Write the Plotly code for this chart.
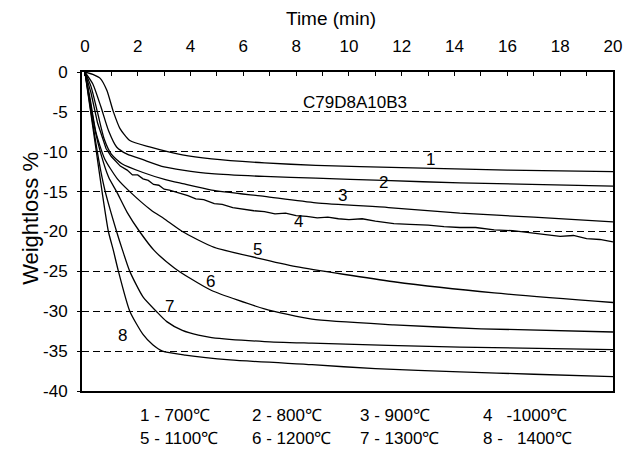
import plotly.graph_objects as go

# ---- data ----
t1 = [0, 0.3, 0.58, 0.83, 1.08, 1.33, 1.7, 2.45, 3.69, 4.8, 6.8, 8.75, 12.0, 16.0, 20.0]
w1 = [0, -0.3, -0.8, -2.3, -5.0, -7.1, -8.6, -9.4, -10.4, -10.9, -11.4, -11.7, -12.0, -12.3, -12.5]

t2 = [0, 0.3, 0.6, 0.9, 1.2, 1.6, 2.2, 3.0, 3.7, 4.8, 6.8, 8.75, 11.3, 14.2, 20.0]
w2 = [0, -1.5, -4.3, -7.4, -9.4, -10.3, -11.0, -11.9, -12.3, -12.75, -13.1, -13.3, -13.6, -13.9, -14.3]

t3 = [0, 0.23, 0.48, 0.73, 1.0, 1.4, 2.2, 3.05, 3.7, 4.8, 6.8, 8.75, 11.5, 14.2, 17.0, 20.0]
w3 = [0, -1.8, -5.1, -8.4, -10.3, -11.5, -12.6, -13.5, -14.0, -14.8, -15.6, -16.4, -17.0, -17.7, -18.2, -18.8]

t4 = [0, 0.23, 0.48, 0.8, 1.0, 1.34, 1.6, 1.8, 2.0, 2.2, 2.4, 2.6, 2.8, 3.0, 3.2, 3.4, 3.65, 3.9,
      4.2, 4.5, 4.9, 5.2, 5.6, 6.0, 6.4, 6.8, 7.2, 7.6, 8.0, 8.4, 8.8, 9.2, 9.6, 10.0, 10.5, 11.0,
      11.7, 12.3, 13.0, 13.6, 14.2, 14.8, 15.5, 16.2, 17.0, 17.6, 18.0, 18.5, 19.0, 19.5, 20.0]
w4 = [0, -2.6, -6.4, -9.6, -10.6, -11.8, -12.3, -12.9, -12.9, -13.4, -13.6, -14.1, -14.2, -14.7, -14.8, -15.0, -15.2, -15.5,
      -15.9, -16.0, -16.5, -16.6, -17.0, -17.2, -17.4, -17.5, -17.8, -17.7, -18.0, -18.1, -18.3, -18.2, -18.4, -18.5, -18.4, -18.7,
      -19.0, -19.1, -19.2, -19.4, -19.5, -19.5, -19.8, -19.9, -20.2, -20.4, -20.6, -20.5, -20.9, -21.0, -21.3]

t5 = [0, 0.2, 0.42, 0.75, 1.23, 1.7, 2.5, 3.0, 3.69, 4.9, 6.5, 8.0, 11.7, 15.5, 20.0]
w5 = [0, -3.4, -7.6, -10.9, -13.4, -15.0, -17.3, -18.4, -20.0, -22.0, -23.3, -24.4, -26.3, -27.7, -28.9]

t6 = [0, 0.2, 0.4, 0.6, 0.9, 1.2, 1.6, 2.07, 2.63, 3.4, 4.0, 4.8, 6.8, 8.6, 11.7, 15.0, 20.0]
w6 = [0, -3.8, -7.5, -10.2, -13.2, -15.0, -17.6, -20.0, -22.4, -24.6, -25.9, -27.4, -29.7, -31.0, -31.7, -32.2, -32.6]

t7 = [0, 0.2, 0.4, 0.6, 0.77, 1.2, 1.43, 1.7, 2.2, 2.7, 3.1, 3.69, 4.3, 4.8, 6.8, 8.6, 14.2, 20.0]
w7 = [0, -4.3, -8.6, -12.4, -15.0, -20.0, -22.4, -25.0, -28.2, -30.0, -31.3, -32.4, -33.0, -33.3, -33.8, -34.0, -34.5, -34.8]

t8 = [0, 0.2, 0.4, 0.65, 0.89, 1.08, 1.27, 1.7, 2.2, 2.57, 2.94, 3.8, 5.5, 8.6, 11.0, 14.2, 17.0, 20.0]
w8 = [0, -4.6, -9.2, -15.0, -20.0, -22.4, -25.0, -30.0, -32.9, -34.2, -35.0, -35.5, -36.1, -36.7, -37.2, -37.6, -37.9, -38.2]

series = [(t1, w1), (t2, w2), (t3, w3), (t4, w4), (t5, w5), (t6, w6), (t7, w7), (t8, w8)]

curve_labels = ["1", "2", "3", "4", "5", "6", "7", "8"]
label_x = [13.1, 11.3, 9.75, 8.08, 6.52, 4.77, 3.22, 1.43]
label_y = [-11.0, -13.8, -15.5, -18.7, -22.2, -26.3, -29.4, -33.1]

legend_row1 = ["1 - 700℃", "2 - 800℃", "3 - 900℃", "4   -1000℃"]
legend_row2 = ["5 - 1100℃", "6 - 1200℃", "7 - 1300℃", "8 -   1400℃"]

x_ticks = list(range(0, 21, 2))
y_ticks = [0, -5, -10, -15, -20, -25, -30, -35, -40]
y_ticktext = ["0", "-5", "-10", "-15", "-20", "-25", "-30", "-35", "-40"]

FONT = "Liberation Sans, Arial, sans-serif"

fig = go.Figure()
for i, (tx, wy) in enumerate(series):
    fig.add_trace(go.Scatter(
        x=tx, y=wy, mode="lines",
        line=dict(color="black", width=1.3,
                  shape="linear" if i == 3 else "spline",
                  smoothing=0.6 if i != 3 else None),
        showlegend=False, hoverinfo="skip"))

annotations = []
for lab, lx, ly in zip(curve_labels, label_x, label_y):
    annotations.append(dict(x=lx, y=ly, xref="x", yref="y", text=lab, showarrow=False,
                            xanchor="center", yanchor="middle",
                            font=dict(family=FONT, size=17, color="black")))

annotations.append(dict(x=8.2, y=-3.85, xref="x", yref="y", text="C79D8A10B3",
                        showarrow=False, xanchor="left", yanchor="middle",
                        font=dict(family=FONT, size=17, color="black")))

# plot area: left 82px, width 540px, top 72px, height 319px
def px_x(p):
    return (p - 82) / 540.0

def px_y(p):
    return (391 - p) / 319.0

leg_x = [139, 253, 363, 488]
for txt, lx in zip(legend_row1, leg_x):
    annotations.append(dict(x=px_x(lx), y=px_y(415), xref="paper", yref="paper", text=txt,
                            showarrow=False, xanchor="left", yanchor="middle",
                            font=dict(family=FONT, size=17, color="black")))
for txt, lx in zip(legend_row2, leg_x):
    annotations.append(dict(x=px_x(lx), y=px_y(439), xref="paper", yref="paper", text=txt,
                            showarrow=False, xanchor="left", yanchor="middle",
                            font=dict(family=FONT, size=17, color="black")))

annotations.append(dict(x=px_x(335), y=px_y(18), xref="paper", yref="paper", text="Time (min)",
                        showarrow=False, xanchor="center", yanchor="middle",
                        font=dict(family=FONT, size=19, color="black")))
annotations.append(dict(x=px_x(30), y=px_y(218), xref="paper", yref="paper", text="Weightloss %",
                        showarrow=False, textangle=-90, xanchor="center", yanchor="middle",
                        font=dict(family=FONT, size=22, color="black")))

fig.update_layout(
    width=634, height=452,
    margin=dict(l=82, r=12, t=72, b=61),
    paper_bgcolor="white", plot_bgcolor="white",
    annotations=annotations,
    xaxis=dict(range=[-0.11, 20], side="top", tickvals=x_ticks,
               ticks="inside", ticklen=4, tickcolor="black",
               minor=dict(dtick=1, ticks="inside", ticklen=4, tickcolor="black"),
               showgrid=False, zeroline=False,
               showline=True, linecolor="black", linewidth=1.5, mirror=True,
               ticklabelstandoff=11,
               tickfont=dict(family=FONT, size=17, color="black")),
    yaxis=dict(range=[-40, 0], tickvals=y_ticks, ticktext=y_ticktext,
               ticks="outside", ticklen=3, tickcolor="black",
               showgrid=True, gridcolor="black", gridwidth=1, griddash="7px,4px",
               zeroline=False,
               showline=True, linecolor="black", linewidth=1.8, mirror=True,
               ticklabelstandoff=6,
               tickfont=dict(family=FONT, size=17, color="black")),
)

fig.write_html("out.html")
